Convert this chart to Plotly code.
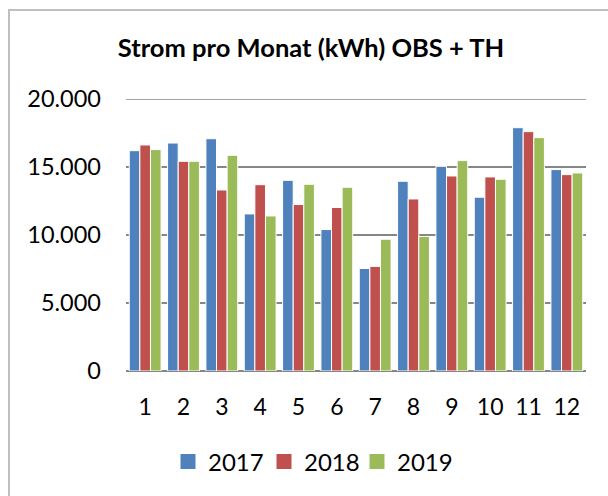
import plotly.graph_objects as go

months = ["1", "2", "3", "4", "5", "6", "7", "8", "9", "10", "11", "12"]
years = ["2017", "2018", "2019"]
v2017 = [16200, 16760, 17080, 11550, 14020, 10400, 7540, 13950, 15050, 12780, 17890, 14810]
v2018 = [16620, 15420, 13310, 13700, 12240, 12020, 7690, 12650, 14340, 14270, 17600, 14440]
v2019 = [16280, 15420, 15860, 11400, 13730, 13510, 9690, 9890, 15470, 14100, 17160, 14560]
colors = ["#4F81BD", "#C0504D", "#9BBB59"]
y_ticks = [0, 5000, 10000, 15000, 20000]
y_tick_text = ["0", "5.000", "10.000", "15.000", "20.000"]
title = "Strom pro Monat (kWh) OBS + TH"

W, H = 608, 496
L, R, T, B = 126, 22, 99, 125
pw, ph = W - L - R, H - T - B

def px(x):
    return (x - L) / pw

def py(y):
    return (H - B - y) / ph

legend_ids = ["legend", "legend2", "legend3"]
legend_sym_x = [188, 284, 377]  # pixel centre of each legend square

fig = go.Figure()
for name, vals, c in zip(years, [v2017, v2018, v2019], colors):
    fig.add_trace(go.Bar(x=months, y=vals, name=name, showlegend=False,
                         marker=dict(color=c, line=dict(color="white", width=1))))
# legend entries with larger square symbols, one legend each for exact placement
for name, c, lid in zip(years, colors, legend_ids):
    fig.add_trace(go.Scatter(x=[None], y=[None], mode="markers", name=name, legend=lid,
                             marker=dict(symbol="square", size=15, color=c)))

leg_common = dict(orientation="h", xanchor="left", y=py(462), yanchor="middle",
                  font=dict(size=24), itemwidth=30, bgcolor="rgba(0,0,0,0)")
legends = {lid: dict(leg_common, x=px(sx - 20)) for lid, sx in zip(legend_ids, legend_sym_x)}

fig.update_layout(
    width=W, height=H,
    margin=dict(l=L, r=R, t=T, b=B),
    paper_bgcolor="white", plot_bgcolor="white",
    font=dict(family="Lato, Open Sans, sans-serif", size=23, color="black"),
    title=dict(text="<b>" + title + "</b>", x=311 / W, xanchor="center",
               y=1 - 48 / H, yanchor="middle",
               font=dict(size=25.5, family="Lato, Open Sans, sans-serif", color="black")),
    barmode="group", bargap=0.17, bargroupgap=0,
    showlegend=True,
    xaxis=dict(showgrid=False, ticks="", showline=False, tickfont=dict(size=23),
               ticklabelstandoff=20),
    yaxis=dict(range=[0, 20000], tickvals=y_ticks, ticktext=y_tick_text,
               showgrid=True, gridcolor="#868686", gridwidth=1.5,
               zeroline=True, zerolinecolor="#868686", zerolinewidth=1.5,
               showline=False, ticks="", ticklabelstandoff=24, tickfont=dict(size=23.5)),
    shapes=[
        dict(type="rect", xref="paper", yref="paper",
             x0=px(9), x1=px(W + 20), y0=py(H + 20), y1=py(10),
             line=dict(color="#BFBFBF", width=2), fillcolor="rgba(0,0,0,0)", layer="below"),
        dict(type="line", xref="paper", yref="y", x0=0, x1=1,
             y0=y_ticks[-1], y1=y_ticks[-1],
             line=dict(color="#868686", width=1.5), layer="below"),
    ],
    **legends,
)

fig.write_html("out.html", config={"displayModeBar": False},
               post_script="document.body.style.margin='0';")
